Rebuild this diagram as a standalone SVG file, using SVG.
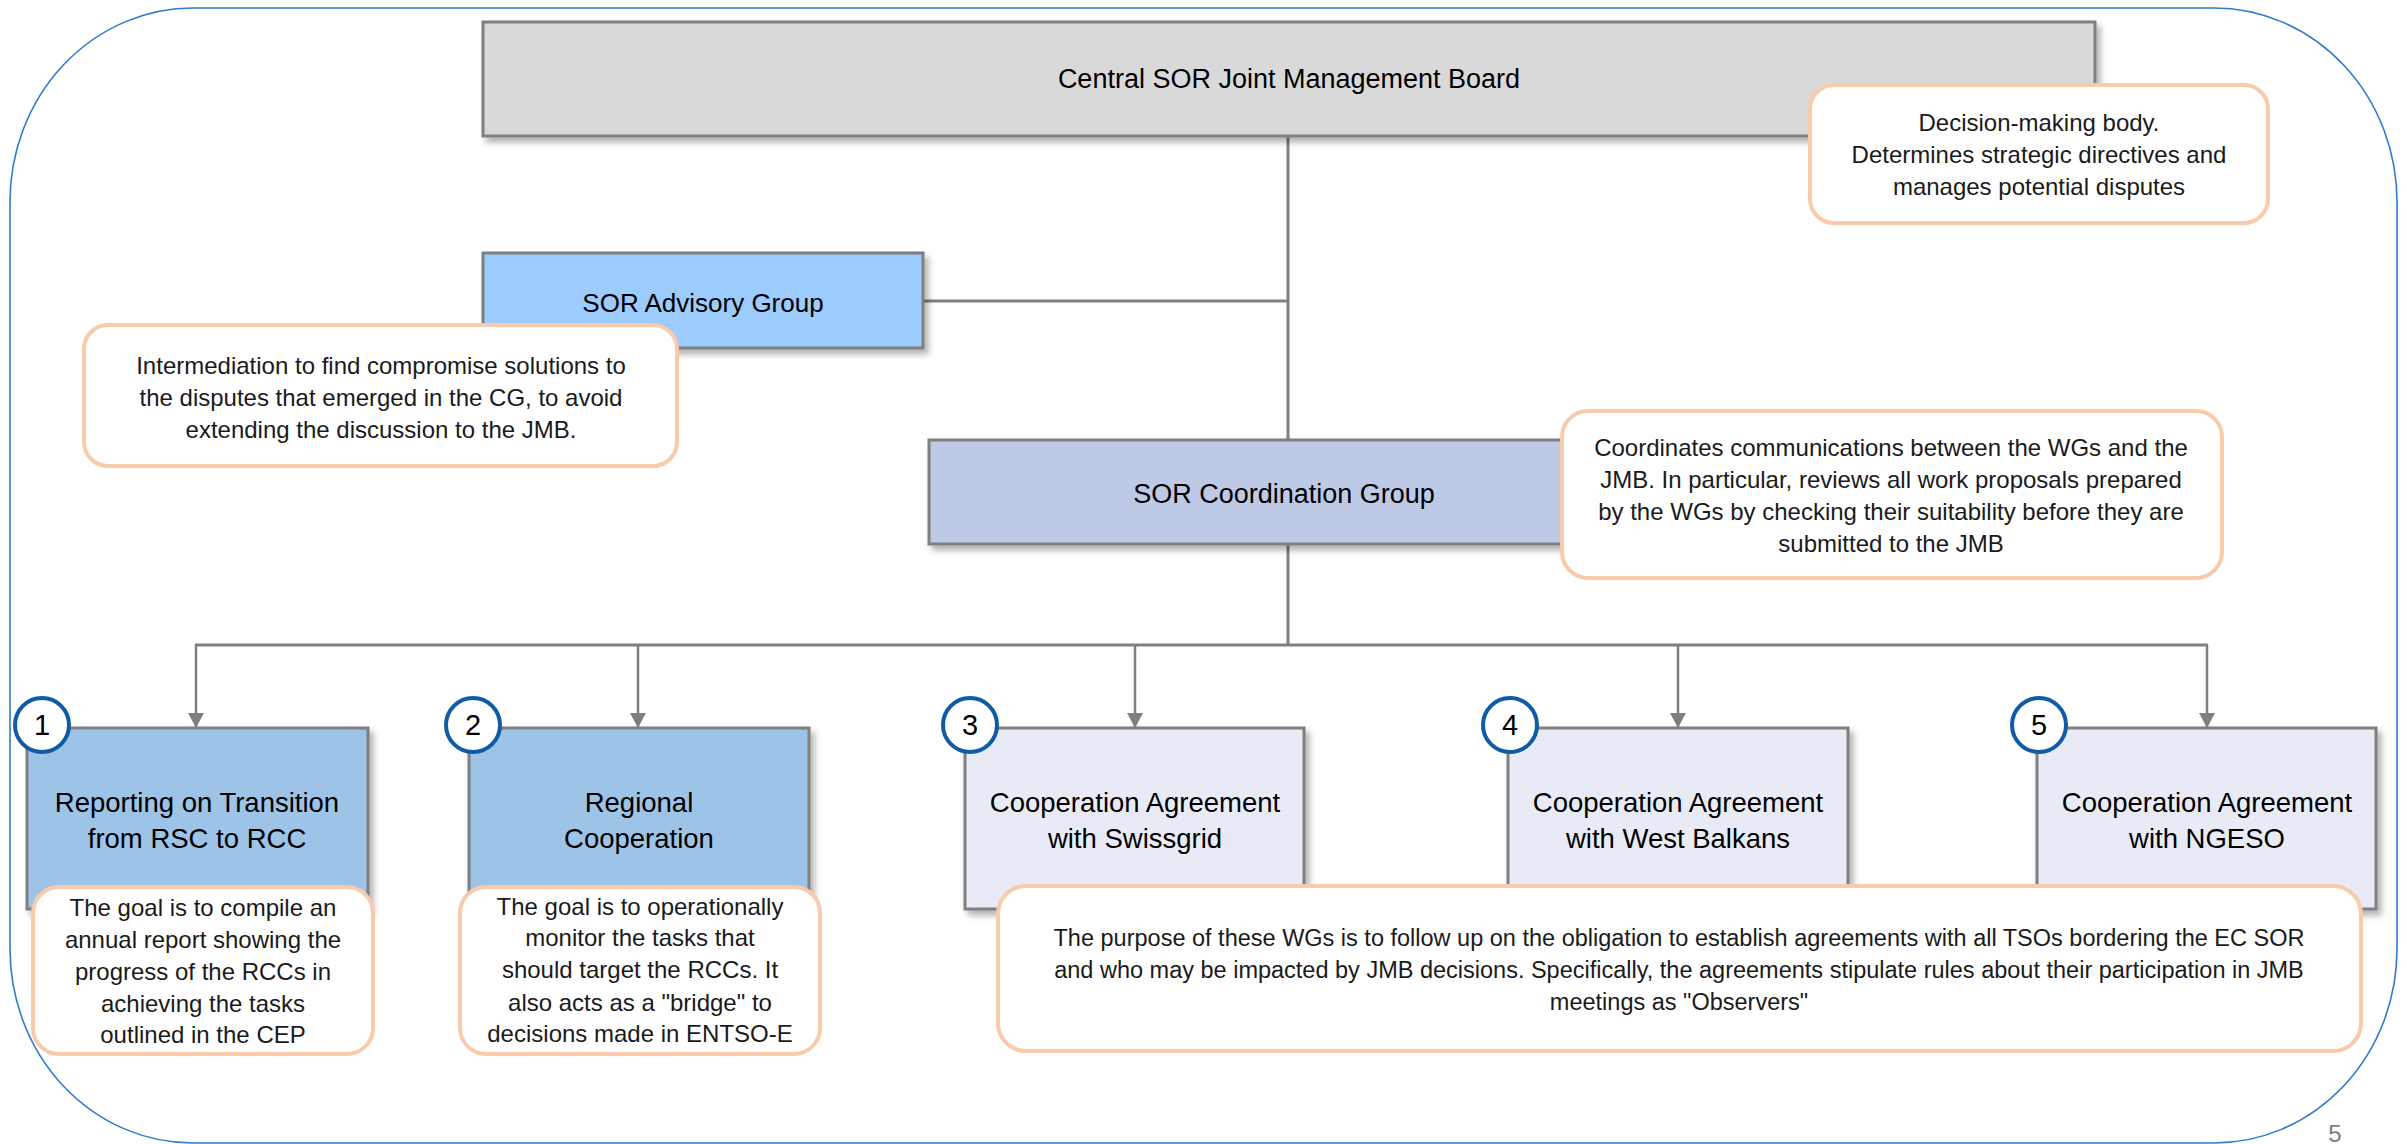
<svg xmlns="http://www.w3.org/2000/svg" width="2407" height="1144" viewBox="0 0 2407 1144">
<defs>
<style>
.box{stroke:#7f7f7f;stroke-width:3;filter:url(#sh)}
.note{fill:#ffffff;stroke:#f8cbad;stroke-width:4}
.t{font-family:"Liberation Sans",Arial,sans-serif;fill:#000;text-anchor:middle}
.tt{font-size:27.5px}
.nt{font-size:24px;fill:#1a1a1a}
.num{fill:#fff;stroke:#0f5ba7;stroke-width:4}
.numt{font-size:29px}
.con{stroke:#7f7f7f;fill:none}
</style>
<filter id="sh" x="-10%" y="-10%" width="130%" height="140%">
<feDropShadow dx="4" dy="5" stdDeviation="3" flood-color="#000" flood-opacity="0.3"/>
</filter>
<marker id="arr" markerUnits="userSpaceOnUse" markerWidth="16" markerHeight="16" viewBox="0 0 16 16" refX="15" refY="8" orient="auto">
<path d="M0,0 L15,8 L0,16 Z" fill="#7f7f7f"/>
</marker>
</defs>
<rect id="frame" x="10" y="8" width="2387" height="1135" rx="183" ry="194" fill="none" stroke="#2e7bcf" stroke-width="1.6"/>
<g id="connectors">
<line class="con" stroke-width="3" x1="1288" y1="136" x2="1288" y2="440"/>
<line class="con" stroke-width="3" x1="923" y1="301" x2="1288" y2="301"/>
<line class="con" stroke-width="3" x1="1288" y1="544" x2="1288" y2="645"/>
<line class="con" stroke-width="3" x1="195" y1="645" x2="2208" y2="645"/>
<line class="con" stroke-width="2.5" x1="196" y1="645" x2="196" y2="728" marker-end="url(#arr)"/>
<line class="con" stroke-width="2.5" x1="638" y1="645" x2="638" y2="728" marker-end="url(#arr)"/>
<line class="con" stroke-width="2.5" x1="1135" y1="645" x2="1135" y2="728" marker-end="url(#arr)"/>
<line class="con" stroke-width="2.5" x1="1678" y1="645" x2="1678" y2="728" marker-end="url(#arr)"/>
<line class="con" stroke-width="2.5" x1="2207" y1="645" x2="2207" y2="728" marker-end="url(#arr)"/>
</g>
<g id="jmb">
<rect class="box" x="483" y="22" width="1612" height="114" fill="#d9d9d9"/>
<text class="t" x="1289" y="88" style="font-size:27px">Central SOR Joint Management Board</text>
</g>
<g id="jmb-note">
<rect class="note" x="1810" y="85" width="458" height="138" rx="24"/>
<text class="t nt" x="2039" y="131">Decision-making body.</text>
<text class="t nt" x="2039" y="163">Determines strategic directives and</text>
<text class="t nt" x="2039" y="195">manages potential disputes</text>
</g>
<g id="advisory">
<rect class="box" x="483" y="253" width="440" height="95" fill="#9ccbfd"/>
<text class="t" x="703" y="312" style="font-size:26px">SOR Advisory Group</text>
</g>
<g id="advisory-note">
<rect class="note" x="84" y="325" width="593" height="141" rx="24"/>
<text class="t nt" x="381" y="374">Intermediation to find compromise solutions to</text>
<text class="t nt" x="381" y="406">the disputes that emerged in the CG, to avoid</text>
<text class="t nt" x="381" y="438">extending the discussion to the JMB.</text>
</g>
<g id="cg">
<rect class="box" x="929" y="440" width="718" height="104" fill="#bdc9e5"/>
<text class="t" x="1284" y="503" style="font-size:27px">SOR Coordination Group</text>
</g>
<g id="cg-note">
<rect class="note" x="1562" y="411" width="660" height="167" rx="26"/>
<text class="t nt" x="1891" y="456">Coordinates communications between the WGs and the</text>
<text class="t nt" x="1891" y="488">JMB. In particular, reviews all work proposals prepared</text>
<text class="t nt" x="1891" y="520">by the WGs by checking their suitability before they are</text>
<text class="t nt" x="1891" y="552">submitted to the JMB</text>
</g>
<g id="wg1">
<rect class="box" x="27" y="728" width="341" height="181" fill="#9dc3e6"/>
<text class="t tt" x="197" y="812">Reporting on Transition</text>
<text class="t tt" x="197" y="848">from RSC to RCC</text>
<circle class="num" cx="42" cy="725" r="27"/>
<text class="t numt" x="42" y="735">1</text>
</g>
<g id="wg2">
<rect class="box" x="469" y="728" width="340" height="181" fill="#9dc3e6"/>
<text class="t tt" x="639" y="812">Regional</text>
<text class="t tt" x="639" y="848">Cooperation</text>
<circle class="num" cx="473" cy="725" r="27"/>
<text class="t numt" x="473" y="735">2</text>
</g>
<g id="wg3">
<rect class="box" x="965" y="728" width="339" height="181" fill="#e8ebf5"/>
<text class="t tt" x="1135" y="812">Cooperation Agreement</text>
<text class="t tt" x="1135" y="848">with Swissgrid</text>
<circle class="num" cx="970" cy="725" r="27"/>
<text class="t numt" x="970" y="735">3</text>
</g>
<g id="wg4">
<rect class="box" x="1508" y="728" width="340" height="181" fill="#e8ebf5"/>
<text class="t tt" x="1678" y="812">Cooperation Agreement</text>
<text class="t tt" x="1678" y="848">with West Balkans</text>
<circle class="num" cx="1510" cy="725" r="27"/>
<text class="t numt" x="1510" y="735">4</text>
</g>
<g id="wg5">
<rect class="box" x="2037" y="728" width="339" height="181" fill="#e8ebf5"/>
<text class="t tt" x="2207" y="812">Cooperation Agreement</text>
<text class="t tt" x="2207" y="848">with NGESO</text>
<circle class="num" cx="2039" cy="725" r="27"/>
<text class="t numt" x="2039" y="735">5</text>
</g>
<g id="wg1-note">
<rect class="note" x="33" y="887" width="340" height="167" rx="26"/>
<text class="t nt" x="203" y="916">The goal is to compile an</text>
<text class="t nt" x="203" y="948">annual report showing the</text>
<text class="t nt" x="203" y="980">progress of the RCCs in</text>
<text class="t nt" x="203" y="1012">achieving the tasks</text>
<text class="t nt" x="203" y="1043">outlined in the CEP</text>
</g>
<g id="wg2-note">
<rect class="note" x="460" y="887" width="360" height="167" rx="26"/>
<text class="t nt" x="640" y="915">The goal is to operationally</text>
<text class="t nt" x="640" y="946">monitor the tasks that</text>
<text class="t nt" x="640" y="978">should target the RCCs. It</text>
<text class="t nt" x="640" y="1011">also acts as a "bridge" to</text>
<text class="t nt" x="640" y="1042">decisions made in ENTSO-E</text>
</g>
<g id="wg345-note">
<rect class="note" x="998" y="886" width="1363" height="165" rx="28"/>
<text class="t nt" x="1679" y="946" style="font-size:23.5px">The purpose of these WGs is to follow up on the obligation to establish agreements with all TSOs bordering the EC SOR</text>
<text class="t nt" x="1679" y="978" style="font-size:23.5px">and who may be impacted by JMB decisions. Specifically, the agreements stipulate rules about their participation in JMB</text>
<text class="t nt" x="1679" y="1010" style="font-size:23.5px">meetings as "Observers"</text>
</g>
<text class="t" x="2335" y="1142" style="font-size:24px;fill:#7f7f7f">5</text>
</svg>
